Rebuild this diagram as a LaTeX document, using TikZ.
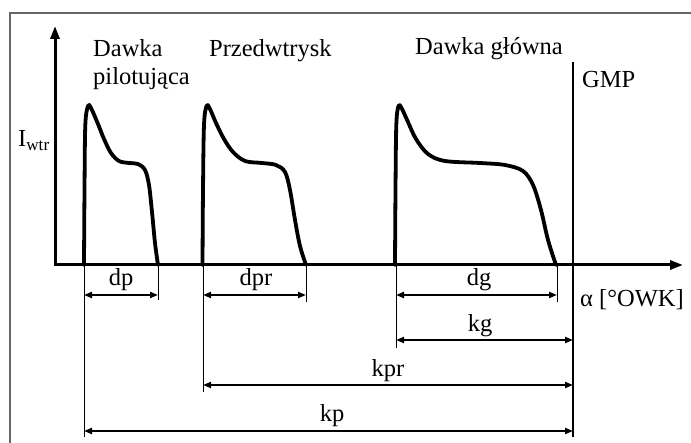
\documentclass[tikz,border=0pt]{standalone}
\usepackage{fontspec}
\setmainfont{Liberation Serif}
\usetikzlibrary{arrows.meta}
\begin{document}
\begin{tikzpicture}[x=1pt,y=-1pt,
  txt/.style={font=\fontsize{24.5}{28}\selectfont, inner sep=0pt},
  axisline/.style={line width=3pt, -{Triangle[length=13pt,width=9pt]}},
  pulse/.style={line width=3.8pt, line join=round, line cap=round},
  dimline/.style={line width=2pt, {Triangle[length=8pt,width=6pt]}-{Triangle[length=8pt,width=6pt]}},
  extline/.style={line width=0.9pt},
  frameline/.style={line width=2pt, gray!80!black}]
\useasboundingbox (0,0) rectangle (691,443);
\draw[frameline] (10,443) -- (10,13) -- (691,13);
% axes
\coordinate (O) at (54,265);
\coordinate (ytip) at (55,26);
\coordinate (xtip) at (683,265);
\draw[axisline] (55,266.5) -- (ytip);
\draw[axisline] (O) -- (xtip);
% pulses
\draw[pulse] plot[smooth, tension=0.55] coordinates {(84,265) (84.5,190) (85.3,125) (88,106) (91,108) (98,124) (104,139) (111,153) (119,161) (129,163) (138,164) (145,170) (149,185) (152,212) (155,243) (158,265)};
\draw[pulse] plot[smooth, tension=0.55] coordinates {(202.5,265) (203,190) (204,125) (206.5,106) (209.5,108) (216,123) (224,139) (233,152) (245,161) (262,163) (276,165) (285,172) (290,190) (295,220) (300,246) (306,265)};
\draw[pulse] plot[smooth, tension=0.55] coordinates {(395,265) (395.5,190) (396.3,125) (398.5,106) (401.5,108) (408,122) (416,139) (428,154) (445,161) (480,163) (505,165) (523,171) (533,185) (541,210) (548,240) (556,265)};
% GMP line
\coordinate (g1) at (573,62);
\coordinate (g2) at (573,437);
\draw[line width=1.2pt] (g1) -- (g2);
% extension lines
\coordinate (e1a) at (84,265); \coordinate (e1b) at (84,437);
\coordinate (e2a) at (158,265); \coordinate (e2b) at (158,300);
\coordinate (e3a) at (203,265); \coordinate (e3b) at (203,392);
\coordinate (e4a) at (306,265); \coordinate (e4b) at (306,302);
\coordinate (e5a) at (396,265); \coordinate (e5b) at (396,348);
\coordinate (e6a) at (557,265); \coordinate (e6b) at (557,302);
\foreach \p in {1,...,6} {\draw[extline] (e\p a) -- (e\p b);}
% dimension arrows
\coordinate (dpL) at (84,295); \coordinate (dpR) at (158,295);
\coordinate (dprL) at (203,295); \coordinate (dprR) at (306,295);
\coordinate (dgL) at (396,295); \coordinate (dgR) at (557,295);
\coordinate (kgL) at (396,340); \coordinate (kgR) at (573,340);
\coordinate (kprL) at (203,385); \coordinate (kprR) at (573,385);
\coordinate (kpL) at (84,431); \coordinate (kpR) at (573,431);
\draw[dimline] (dpL) -- (dpR);
\draw[dimline] (dprL) -- (dprR);
\draw[dimline] (dgL) -- (dgR);
\draw[dimline] (kgL) -- (kgR);
\draw[dimline] (kprL) -- (kprR);
\draw[dimline] (kpL) -- (kpR);
% dimension labels
\node[txt, anchor=base] (ldp) at (121,286) {dp};
\node[txt, anchor=base] (ldpr) at (256,286) {dpr};
\node[txt, anchor=base] (ldg) at (479,286) {dg};
\node[txt, anchor=base] (lkg) at (480,332) {kg};
\node[txt, anchor=base] (lkpr) at (388,377) {kpr};
\node[txt, anchor=base] (lkp) at (332,422) {kp};
% other labels
\node[txt, anchor=base west] (t1) at (93,57) {Dawka};
\node[txt, anchor=base west] (t2) at (93,85) {pilotująca};
\node[txt, anchor=base west] (t3) at (209,57) {Przedwtrysk};
\node[txt, anchor=base west] (t4) at (415,55) {Dawka główna};
\node[txt, anchor=base west] (tg) at (582,88) {GMP};
\node[txt, anchor=base west] (ti) at (18,147) {I\textsubscript{wtr}};
\node[txt, anchor=base west] (ta) at (580,307) {α [°OWK]};
\end{tikzpicture}
\end{document}
